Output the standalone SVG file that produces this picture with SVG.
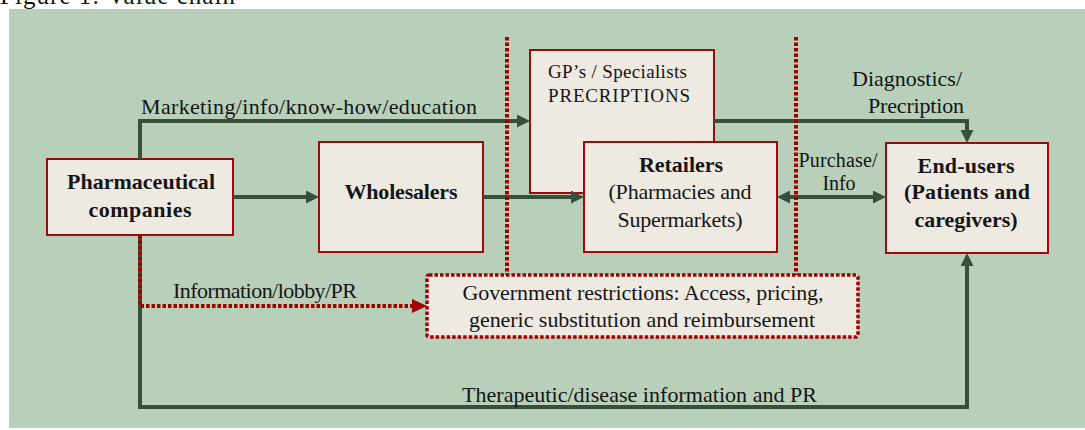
<svg xmlns="http://www.w3.org/2000/svg" width="1085" height="430" viewBox="0 0 1085 430">
<style>
text{font-family:"Liberation Serif","Times New Roman",serif;fill:#151515;}
.lbl{font-size:22px;}
.b{font-size:22px;font-weight:bold;}
.node{fill:#EEEAE1;stroke:#9C0A0A;stroke-width:2;}
.gov{fill:#EEEAE1;stroke:#A00000;stroke-width:3.5;stroke-dasharray:3.5 2;}
.g{fill:none;stroke:#38503A;stroke-width:4;}
.r{fill:none;stroke:#A00000;stroke-width:4;stroke-dasharray:3.5 2;}
</style>
<defs>
<marker id="ga" markerUnits="userSpaceOnUse" markerWidth="13" markerHeight="13" refX="9" refY="6.5" orient="auto-start-reverse"><path d="M0,0 L13,6.5 L0,13 z" fill="#38503A"/></marker>
<marker id="ra" markerUnits="userSpaceOnUse" markerWidth="15" markerHeight="14" refX="11" refY="7" orient="auto"><path d="M0,0 L15,7 L0,14 z" fill="#A00000"/></marker>
</defs>
<rect width="1085" height="430" fill="#FFFFFF"/>
<text x="0" y="4" style="font-size:25px" textLength="235">Figure 1: Value chain</text>
<rect x="9" y="9" width="1076" height="419" fill="#B8D0B9"/>

<g id="gp">
<rect class="node" x="530" y="50" width="184" height="143"/>
<text x="548" y="78" style="font-size:19px" textLength="139">GP’s / Specialists</text>
<text x="548" y="102" style="font-size:19px" textLength="142">PRECRIPTIONS</text>
</g>
<g id="pharma">
<rect class="node" x="47" y="159" width="186" height="76"/>
<text class="b" x="141" y="189" text-anchor="middle" textLength="148">Pharmaceutical</text>
<text class="b" x="140" y="217" text-anchor="middle" textLength="103">companies</text>
</g>
<g id="wholesalers">
<rect class="node" x="319" y="142" width="164" height="110"/>
<text class="b" x="401" y="199" text-anchor="middle" textLength="113">Wholesalers</text>
</g>
<g id="retailers">
<rect class="node" x="584" y="142" width="193" height="110"/>
<text class="b" x="681" y="172" text-anchor="middle" textLength="84">Retailers</text>
<text class="lbl" x="680" y="199" text-anchor="middle" textLength="143">(Pharmacies and</text>
<text class="lbl" x="680" y="227" text-anchor="middle" textLength="125">Supermarkets)</text>
</g>
<g id="endusers">
<rect class="node" x="886" y="143" width="162" height="110"/>
<text class="b" x="966" y="173" text-anchor="middle" textLength="97">End-users</text>
<text class="b" x="967" y="199" text-anchor="middle" textLength="126">(Patients and</text>
<text class="b" x="966" y="227" text-anchor="middle" textLength="103">caregivers)</text>
</g>
<g id="government">
<rect class="gov" x="427" y="275" width="431" height="62" rx="2"/>
<text class="lbl" x="643" y="300" text-anchor="middle" textLength="361">Government restrictions: Access, pricing,</text>
<text class="lbl" x="642" y="327" text-anchor="middle" textLength="346">generic substitution and reimbursement</text>
</g>

<g id="connectors">
<path class="g" d="M140,159 V121 H526" marker-end="url(#ga)"/>
<path class="g" d="M233,197 H315" marker-end="url(#ga)"/>
<path class="g" d="M483,197 H580" marker-end="url(#ga)"/>
<path class="g" d="M714,121 H967 V139" marker-end="url(#ga)"/>
<path class="g" d="M781,197 H882" marker-start="url(#ga)" marker-end="url(#ga)"/>
<path class="g" d="M140,235 V407 H967 V257" marker-end="url(#ga)"/>
<path class="r" d="M140,235 V306 H423" marker-end="url(#ra)"/>
<path class="r" d="M507,37 V275"/>
<path class="r" d="M796,37 V275"/>
<text class="lbl" x="141" y="114" textLength="336">Marketing/info/know-how/education</text>
<text class="lbl" x="907" y="86" text-anchor="middle" textLength="110">Diagnostics/</text>
<text class="lbl" x="916" y="113" text-anchor="middle" textLength="96">Precription</text>
<text x="838" y="167" text-anchor="middle" style="font-size:20px" textLength="79">Purchase/</text>
<text x="839" y="190" text-anchor="middle" style="font-size:20px" textLength="33">Info</text>
<text class="lbl" x="173" y="298" textLength="184">Information/lobby/PR</text>
<text class="lbl" x="462" y="402" textLength="355">Therapeutic/disease information and PR</text>
</g>
</svg>
